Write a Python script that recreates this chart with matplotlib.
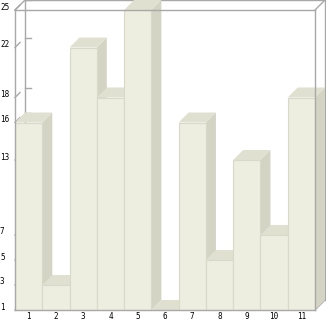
import numpy as np
import matplotlib
matplotlib.use("Agg")
import matplotlib.pyplot as plt
from matplotlib.patches import Polygon
from matplotlib.transforms import blended_transform_factory, ScaledTranslation

# data
categories = ["1", "2", "3", "4", "5", "6", "7", "8", "9", "10", "11"]
values = [16, 3, 22, 18, 25, 1, 16, 5, 13, 7, 18]
y_ticks = sorted(set(values))

FRONT = "#eeeee0"
TOP = "#e0e0d0"
SIDE = "#d4d4c4"
EDGE = "#d9d9c9"
FRAME = "#a8a8a8"

W, H = 326, 321
fig = plt.figure(figsize=(W / 100, H / 100), dpi=100)
ax = fig.add_axes([15 / W, 11 / H, 300 / W, 300 / H])

x = np.arange(1, len(values) + 1)
x_lo, x_hi = 0.5, len(values) + 0.5
y_lo, y_hi = 1, 25
ax.set_xlim(x_lo, x_hi)
ax.set_ylim(y_lo, y_hi)

# 3d depth of ~10 px expressed in data units
dx = 10 / 300 * (x_hi - x_lo)
dy = 10 / 300 * (y_hi - y_lo)

# back box + y tick stubs (behind the bars)
line_kw = dict(color=FRAME, lw=1, clip_on=False, zorder=1)
ax.plot([x_lo + dx, x_lo + dx, x_hi + dx, x_hi + dx],
        [y_lo + dy, y_hi + dy, y_hi + dy, y_lo + dy], **line_kw)
ax.plot([x_lo, x_lo + dx], [y_hi, y_hi + dy], **line_kw)
ax.plot([x_hi, x_hi + dx], [y_hi, y_hi + dy], **line_kw)
ax.plot([x_hi, x_hi + dx], [y_lo, y_lo + dy], **line_kw)
for v in y_ticks:
    ax.plot([x_lo, x_lo + dx * 0.5], [v, v + dy * 0.5], **line_kw)
    ax.plot([x_lo + dx, x_lo + dx + 0.22], [v + dy, v + dy], **line_kw)

# bars, left to right so each front hides the neighbour's side face
for i, (xi, v) in enumerate(zip(x, values)):
    l, r = xi - 0.5, xi + 0.5
    z = 3 + i
    ax.add_patch(Polygon([(r, y_lo), (r + dx, y_lo + dy), (r + dx, v + dy), (r, v)],
                         closed=True, fc=SIDE, ec="none", zorder=z, clip_on=False))
    ax.add_patch(Polygon([(l, v), (l + dx, v + dy), (r + dx, v + dy), (r, v)],
                         closed=True, fc=TOP, ec="none", zorder=z, clip_on=False))
    ax.bar(xi, v - y_lo, bottom=y_lo, width=1.0, color=FRONT,
           edgecolor=EDGE, linewidth=0.8, zorder=z)

for s in ax.spines.values():
    s.set_color(FRAME)
    s.set_linewidth(1)
    s.set_zorder(50)

ax.set_xticks(x)
ax.set_xticklabels(categories, fontsize=5.5, family="DejaVu Sans Mono")
ax.tick_params(axis="x", length=0, pad=1.5)
ax.set_yticks([])

# y labels sit left-aligned at the figure edge, a bit above the value
tr = blended_transform_factory(fig.transFigure, ax.transData) + \
    ScaledTranslation(0, 3 / 100, fig.dpi_scale_trans)
for v in y_ticks:
    ax.text(0.0, v, str(v), transform=tr, ha="left", va="center",
            fontsize=5.5, family="DejaVu Sans Mono")

fig.savefig("out.png", dpi=100, facecolor="white")
